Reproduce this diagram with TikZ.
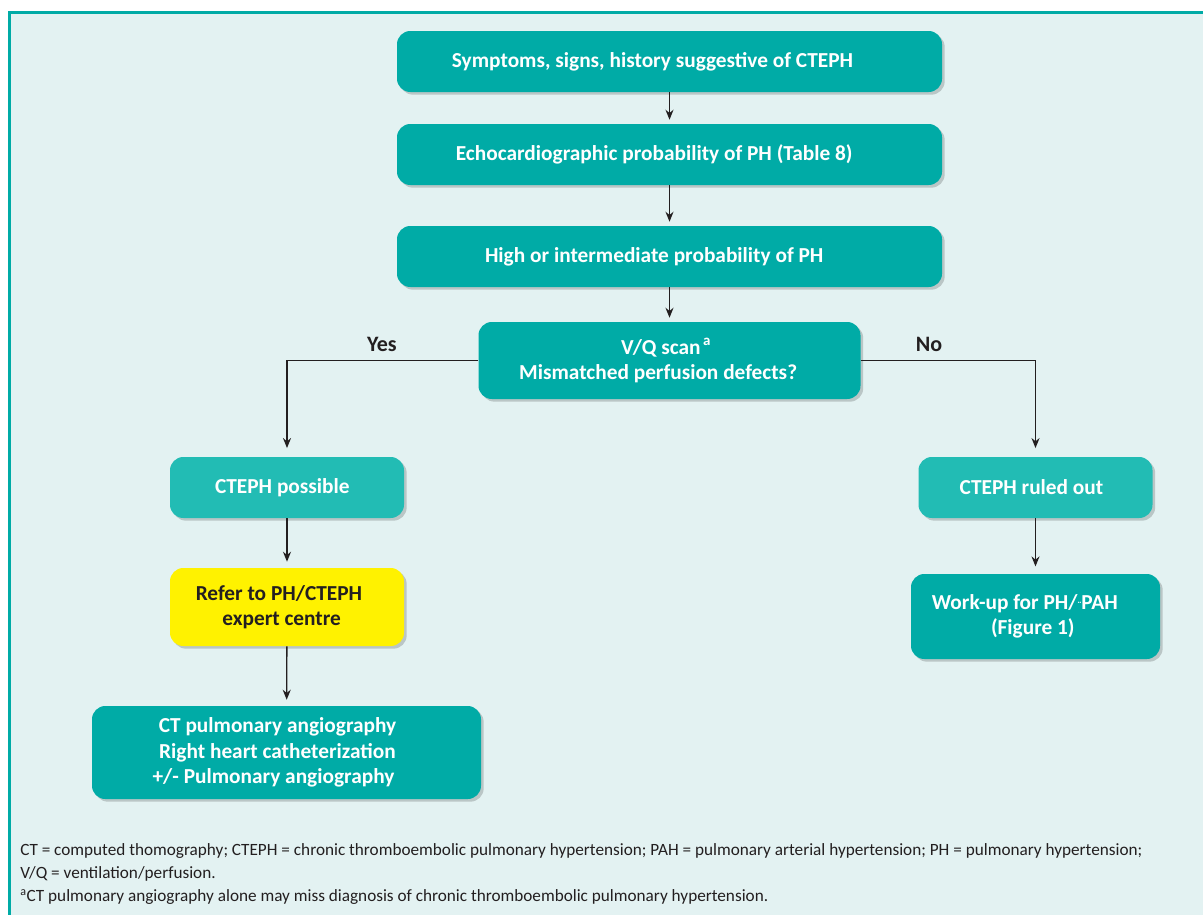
\documentclass[tikz,border=0pt]{standalone}
\usepackage{fontspec}
\setmainfont{Carlito}
\usepackage{xcolor}
\usetikzlibrary{shadows,arrows.meta}

\definecolor{tealbox}{RGB}{0,171,166}
\definecolor{tealsoft}{RGB}{34,188,180}
\definecolor{panel}{RGB}{227,242,242}
\definecolor{ink}{RGB}{35,31,32}
\definecolor{signal}{RGB}{255,242,0}

\newcommand{\nudge}[1]{\kern#1}

\tikzset{
  box/.style={draw=none, fill=tealbox, text=white, rounded corners=10pt, align=center,
    font=\bfseries\fontsize{16}{19}\selectfont,
    drop shadow={shadow xshift=2pt, shadow yshift=-2pt, opacity=.18, fill=black}},
  softbox/.style={box, fill=tealsoft},
  alertbox/.style={box, fill=signal, text=ink},
  arr/.style={draw=ink, line width=1pt, -{Stealth[length=7.5pt,width=6pt]}},
  branch/.style={font=\bfseries\fontsize{16.5}{19}\selectfont, text=ink}
}

\begin{document}
\begin{tikzpicture}[x=0.75pt,y=-0.75pt]
\useasboundingbox (0,0) rectangle (1203,914);
\clip (0,0) rectangle (1203,914);
\fill[white] (0,0) rectangle (1203,914);
\fill[panel] (9.5,12) rectangle (1230,940);
\draw[tealbox, line width=2.25pt] (9.5,12) rectangle (1230,940);

\node[box, minimum width=408.75pt, minimum height=45.75pt] (symp) at (669.5,61.5)
  {Symptoms, signs, history suggestive of CTEPH\nudge{25.5pt}};
\node[box, minimum width=408.75pt, minimum height=45.75pt] (echo) at (669.5,154.5)
  {Echocardiographic probability of PH (Table 8)\nudge{23pt}};
\node[box, minimum width=408.75pt, minimum height=45.75pt] (high) at (669.5,256.5)
  {High or intermediate probability of PH\nudge{23pt}};
\node[box, minimum width=286.5pt, minimum height=57.75pt] (vq) at (669.5,360.5)
  {V/Q scan\textsuperscript{\,a}\nudge{5pt}\\Mismatched perfusion defects?\nudge{17pt}};

\node[softbox, minimum width=175.5pt, minimum height=45.75pt] (poss) at (287,487.5)
  {CTEPH possible\nudge{7pt}};
\node[softbox, minimum width=175.5pt, minimum height=45.75pt] (rout) at (1035.5,487.5)
  {CTEPH ruled out\nudge{6pt}};
\node[alertbox, minimum width=175.5pt, minimum height=58.5pt] (refer) at (287,607)
  {Refer to PH/CTEPH\nudge{12pt}\\expert centre\nudge{8pt}};
\node[box, minimum width=186.75pt, minimum height=63.75pt] (work) at (1035.5,616.5)
  {Work-up for PH/{\scriptsize\raisebox{.2ex}{¨}}PAH\nudge{16pt}\\(Figure 1)\nudge{4pt}};
\node[box, minimum width=291.75pt, minimum height=69.75pt] (ctpa) at (286.5,752.5)
  {CT pulmonary angiography\nudge{13.5pt}\\Right heart catheterization\nudge{13.5pt}\\+/- Pulmonary angiography\nudge{19.5pt}};

\node[branch] (yes) at (382,344) {Yes};
\node[branch] (no) at (929,344) {No};

\draw[arr, shorten >=3pt] (symp) -- (echo);
\draw[arr, shorten >=3pt] (echo) -- (high);
\draw[arr, shorten >=3pt] (high) -- (vq);
\draw[arr, shorten >=6.5pt] (vq.west) -| (poss.north);
\draw[arr, shorten >=6.5pt] (vq.east) -| (rout.north);
\draw[arr, shorten >=4.5pt] (poss) -- (refer);
\draw[arr, shorten >=4.5pt] (refer) -- (ctpa);
\draw[arr, shorten >=5.5pt] (rout) -- (work);

\node[anchor=north west, align=left, text=ink, font=\fontsize{12.9}{17.4}\selectfont, inner sep=0pt] (notes) at (20,843)
  {CT = computed thomography; CTEPH = chronic thromboembolic pulmonary hypertension; PAH = pulmonary arterial hypertension; PH = pulmonary hypertension;\\
   V/Q = ventilation/perfusion.\\
   \textsuperscript{a}CT pulmonary angiography alone may miss diagnosis of chronic thromboembolic pulmonary hypertension.};
\end{tikzpicture}
\end{document}
